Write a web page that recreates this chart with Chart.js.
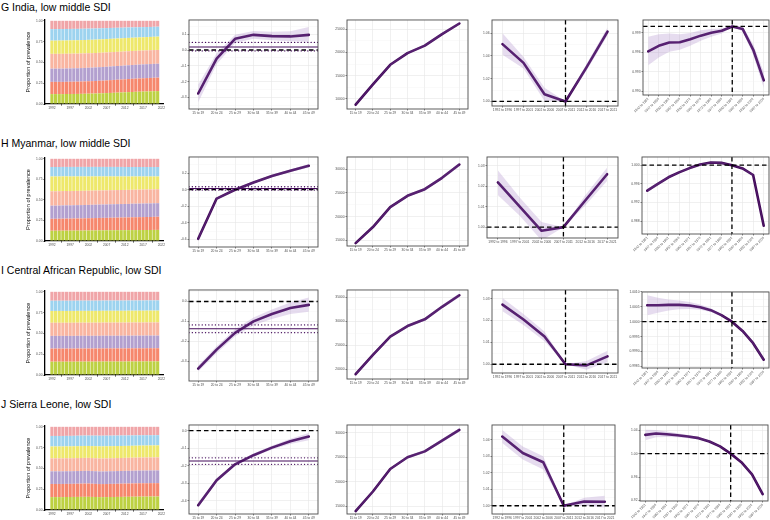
<!DOCTYPE html>
<html>
<head>
<meta charset="utf-8">
<script src="https://cdn.jsdelivr.net/npm/chart.js@4.4.0/dist/chart.umd.min.js"></script>
<style>
	body { margin: 0; background: #fff; width: 770px; height: 520px; overflow: hidden; position: relative; font-family: "Liberation Sans", Arial, sans-serif; }
	.title { position: absolute; left: 1px; font-size: 10.5px; color: #000; white-space: nowrap; line-height: 12px; }
	canvas { position: absolute; }
</style>
</head>
<body>
<script>
//============================================================================
// categories and tick labels
const age_groups = ['15 to 19', '20 to 24', '25 to 29', '30 to 34', '35 to 39', '40 to 44', '45 to 49'];
const periods = ['1992 to 1996', '1997 to 2001', '2002 to 2006', '2007 to 2011', '2012 to 2016', '2017 to 2021'];
const cohorts = ['1942 to 1951', '1947 to 1956', '1952 to 1961', '1957 to 1966', '1962 to 1971', '1967 to 1976',
	'1972 to 1981', '1977 to 1986', '1982 to 1991', '1987 to 1996', '1992 to 2001', '1997 to 2006'];
const years = [1992, 1993, 1994, 1995, 1996, 1997, 1998, 1999, 2000, 2001, 2002, 2003, 2004, 2005, 2006,
	2007, 2008, 2009, 2010, 2011, 2012, 2013, 2014, 2015, 2016, 2017, 2018, 2019, 2020, 2021];
const year_ticks = [1992, 1997, 2002, 2007, 2012, 2017, 2022];
const share_ticks = [0, 0.25, 0.5, 0.75, 1];
const ref_period = '2007 to 2011';
const ref_cohort = '1982 to 1991';
const share_colors = ['#BDD142', '#F6876D', '#B3A0CF', '#F9B5A1', '#EEE86B', '#9DD3EF', '#F0A5A8'];

//============================================================================
// G India
const india_share_15 = [11.9,11.9,11.9,11.9,12.0,12.0,12.1,12.1,12.2,12.3,12.4,12.5,12.6,12.8,12.9,13.1,13.3,13.5,13.7,13.9,14.1,14.3,14.5,14.7,14.8,15.0,15.1,15.3,15.4,15.5];
const india_share_20 = [14.7,14.7,14.7,14.7,14.7,14.8,14.8,14.8,14.9,14.9,15.0,15.0,15.1,15.2,15.2,15.3,15.4,15.5,15.6,15.6,15.7,15.8,15.9,15.9,16.0,16.0,16.1,16.1,16.2,16.2];
const india_share_25 = [15.9,15.9,15.9,16.0,16.0,16.0,16.1,16.1,16.1,16.2,16.2,16.2,16.3,16.3,16.4,16.4,16.4,16.5,16.5,16.5,16.6,16.6,16.6,16.6,16.7,16.7,16.7,16.7,16.7,16.7];
const india_share_30 = [17.8,17.8,17.8,17.8,17.7,17.7,17.7,17.6,17.6,17.5,17.5,17.4,17.4,17.3,17.3,17.2,17.2,17.1,17.1,17.0,17.0,16.9,16.9,16.8,16.8,16.7,16.7,16.7,16.6,16.6];
const india_share_35 = [15.9,15.9,16.0,16.0,16.0,16.1,16.1,16.1,16.1,16.1,16.1,16.1,16.1,16.1,16.1,16.1,16.1,16.1,16.1,16.1,16.1,16.1,16.0,16.0,16.0,16.0,16.0,16.0,16.0,16.0];
const india_share_40 = [13.8,13.8,13.8,13.8,13.8,13.7,13.7,13.7,13.6,13.6,13.5,13.5,13.4,13.3,13.3,13.2,13.1,13.0,12.9,12.8,12.7,12.6,12.5,12.4,12.3,12.2,12.1,12.0,12.0,11.9];
const india_share_45 = [10.0,10.0,9.9,9.9,9.8,9.8,9.7,9.7,9.6,9.5,9.4,9.3,9.2,9.1,8.9,8.8,8.6,8.5,8.4,8.3,8.1,8.0,7.9,7.8,7.7,7.6,7.5,7.4,7.2,7.1];

const india_drift = [-0.275, -0.054, 0.071, 0.096, 0.088, 0.086, 0.096];
const india_drift_lo = [-0.33, -0.09, 0.045, 0.072, 0.062, 0.056, 0.052];
const india_drift_hi = [-0.22, -0.02, 0.097, 0.12, 0.115, 0.118, 0.145];
const india_net_drift = [0.019, -0.006, 0.048];
const india_drift_ticks = [-0.3, -0.2, -0.1, 0, 0.1];

const india_age = [8730, 13100, 17340, 19860, 21480, 23960, 26240];
const india_age_lo = [8600, 12950, 17150, 19650, 21250, 23700, 25950];
const india_age_hi = [8860, 13250, 17530, 20070, 21710, 24220, 26530];
const india_age_ticks = [10000, 15000, 20000, 25000];

const india_period = [1.0504, 1.0339, 1.0064, 1.0, 1.030, 1.0614];
const india_period_lo = [1.041, 1.029, 1.0005, 1.0, 1.027, 1.058];
const india_period_hi = [1.060, 1.039, 1.012, 1.0, 1.033, 1.065];
const india_period_ticks = [1.00, 1.02, 1.04, 1.06];

const india_cohort = [0.99614, 0.99700, 0.99751, 0.99756, 0.99802, 0.99858, 0.99903, 0.99934, 1.0, 0.99959, 0.99639, 0.99166];
const india_cohort_lo = [0.9940, 0.9952, 0.9961, 0.9964, 0.9970, 0.9978, 0.9984, 0.9989, 1.0, 0.9992, 0.9956, 0.9905];
const india_cohort_hi = [0.9984, 0.9988, 0.9989, 0.9988, 0.9990, 0.9994, 0.9996, 0.9997, 1.0, 1.0000, 0.9972, 0.9929];
const india_cohort_ticks = [0.990, 0.993, 0.996, 0.999];

//============================================================================
// H Myanmar
const myanmar_share_15 = [12.5,12.5,12.5,12.6,12.6,12.6,12.7,12.7,12.7,12.8,12.8,12.9,12.9,13.0,13.0,13.0,13.1,13.1,13.1,13.2,13.2,13.2,13.3,13.3,13.3,13.4,13.4,13.4,13.5,13.5];
const myanmar_share_20 = [14.5,14.5,14.6,14.6,14.7,14.7,14.8,14.8,14.9,14.9,15.0,15.0,15.1,15.1,15.2,15.2,15.3,15.3,15.4,15.4,15.5,15.5,15.6,15.6,15.7,15.7,15.8,15.8,15.9,16.0];
const myanmar_share_25 = [16.0,16.0,16.0,16.1,16.1,16.1,16.1,16.2,16.2,16.2,16.2,16.3,16.3,16.3,16.3,16.3,16.4,16.4,16.4,16.4,16.4,16.4,16.5,16.5,16.5,16.5,16.5,16.5,16.5,16.5];
const myanmar_share_30 = [17.5,17.5,17.5,17.5,17.5,17.4,17.4,17.4,17.4,17.3,17.3,17.3,17.3,17.2,17.2,17.2,17.2,17.1,17.1,17.1,17.1,17.1,17.0,17.0,17.0,17.0,17.0,17.0,17.0,17.0];
const myanmar_share_35 = [18.0,18.0,17.9,17.9,17.8,17.8,17.7,17.6,17.6,17.5,17.4,17.3,17.2,17.1,17.0,16.9,16.8,16.7,16.6,16.5,16.4,16.3,16.2,16.1,16.0,15.9,15.8,15.7,15.6,15.5];
const myanmar_share_40 = [11.5,11.5,11.5,11.5,11.5,11.6,11.6,11.6,11.6,11.6,11.6,11.6,11.6,11.6,11.6,11.6,11.6,11.6,11.6,11.6,11.5,11.5,11.5,11.5,11.5,11.5,11.5,11.5,11.5,11.5];
const myanmar_share_45 = [10.0,10.0,10.0,9.9,9.9,9.9,9.9,9.9,9.9,9.9,9.9,9.9,9.9,9.9,9.9,9.9,9.9,9.9,9.9,9.9,10.0,10.0,10.0,10.0,10.0,10.0,10.0,10.0,10.0,10.0];

const myanmar_drift = [-0.594, -0.107, 0.0, 0.087, 0.166, 0.23, 0.29];
const myanmar_drift_lo = [-0.615, -0.12, -0.012, 0.075, 0.152, 0.214, 0.27];
const myanmar_drift_hi = [-0.575, -0.094, 0.012, 0.099, 0.18, 0.246, 0.31];
const myanmar_net_drift = [0.015, -0.004, 0.036];
const myanmar_drift_ticks = [-0.6, -0.4, -0.2, 0, 0.2];

const myanmar_age = [14400, 17800, 22000, 24400, 25800, 28200, 31000];
const myanmar_age_lo = [14250, 17620, 21780, 24150, 25520, 27880, 30600];
const myanmar_age_hi = [14550, 17980, 22220, 24650, 26080, 28520, 31400];
const myanmar_age_ticks = [15000, 20000, 25000, 30000];

const myanmar_period = [1.0218, 1.010, 0.9982, 1.0, 1.013, 1.0258];
const myanmar_period_lo = [1.0156, 1.0055, 0.9935, 1.0, 1.0105, 1.0225];
const myanmar_period_hi = [1.0277, 1.0145, 1.0025, 1.0, 1.0155, 1.029];
const myanmar_period_ticks = [1.00, 1.01, 1.02, 1.03];

const myanmar_cohort = [0.99453, 0.99600, 0.99740, 0.99846, 0.99937, 1.00014, 1.00056, 1.00049, 1.0, 0.9993, 0.99789, 0.98702];
const myanmar_cohort_lo = [0.9942, 0.9957, 0.9972, 0.9983, 0.9992, 1.0000, 1.0004, 1.0003, 1.0, 0.9992, 0.9977, 0.9867];
const myanmar_cohort_hi = [0.9949, 0.9963, 0.9976, 0.9986, 0.9995, 1.0003, 1.0007, 1.0007, 1.0, 0.9994, 0.9981, 0.9873];
const myanmar_cohort_ticks = [0.988, 0.992, 0.996, 1.000];

//============================================================================
// I Central African Republic
const car_share_15 = [16.0,16.0,16.0,16.0,16.0,16.0,16.0,16.1,16.1,16.1,16.1,16.1,16.1,16.1,16.2,16.2,16.2,16.2,16.2,16.2,16.2,16.3,16.3,16.3,16.3,16.3,16.4,16.4,16.4,16.4];
const car_share_20 = [15.8,15.8,15.8,15.8,15.8,15.8,15.8,15.8,15.8,15.8,15.8,15.8,15.8,15.8,15.8,15.8,15.8,15.8,15.8,15.8,15.8,15.8,15.8,15.8,15.8,15.8,15.8,15.8,15.8,15.8];
const car_share_25 = [15.2,15.2,15.2,15.2,15.2,15.2,15.2,15.2,15.2,15.2,15.2,15.2,15.2,15.2,15.2,15.2,15.2,15.2,15.2,15.2,15.2,15.2,15.2,15.2,15.2,15.2,15.2,15.2,15.2,15.2];
const car_share_30 = [15.8,15.8,15.8,15.8,15.8,15.8,15.8,15.8,15.8,15.8,15.8,15.8,15.8,15.8,15.8,15.8,15.8,15.8,15.8,15.8,15.8,15.8,15.8,15.8,15.8,15.8,15.8,15.8,15.8,15.8];
const car_share_35 = [14.2,14.2,14.2,14.2,14.2,14.2,14.2,14.2,14.2,14.2,14.2,14.2,14.2,14.2,14.2,14.2,14.2,14.2,14.2,14.2,14.2,14.2,14.2,14.2,14.2,14.2,14.2,14.2,14.2,14.2];
const car_share_40 = [12.3,12.3,12.3,12.3,12.3,12.3,12.3,12.3,12.3,12.3,12.3,12.3,12.3,12.3,12.3,12.3,12.3,12.3,12.3,12.3,12.3,12.3,12.3,12.3,12.3,12.3,12.3,12.3,12.3,12.3];
const car_share_45 = [10.7,10.7,10.7,10.7,10.7,10.7,10.7,10.6,10.6,10.6,10.6,10.6,10.6,10.6,10.5,10.5,10.5,10.5,10.5,10.5,10.5,10.4,10.4,10.4,10.4,10.4,10.3,10.3,10.3,10.3];

const car_drift = [-0.338, -0.242, -0.158, -0.1, -0.063, -0.033, -0.017];
const car_drift_lo = [-0.352, -0.26, -0.175, -0.12, -0.088, -0.063, -0.052];
const car_drift_hi = [-0.322, -0.225, -0.14, -0.08, -0.04, -0.005, 0.02];
const car_net_drift = [-0.137, -0.157, -0.118];
const car_drift_ticks = [-0.3, -0.2, -0.1, 0];

const car_age = [19000, 23000, 26800, 29000, 30400, 33000, 35400];
const car_age_lo = [18800, 22780, 26550, 28720, 30100, 32650, 35000];
const car_age_hi = [19200, 23220, 27050, 29280, 30700, 33350, 35800];
const car_age_ticks = [20000, 25000, 30000, 35000];

const car_period = [1.0273, 1.0205, 1.0127, 1.0, 0.9995, 1.0036];
const car_period_lo = [1.0243, 1.0180, 1.0105, 1.0, 0.9975, 1.0010];
const car_period_hi = [1.0303, 1.0230, 1.0150, 1.0, 1.0015, 1.0062];
const car_period_ticks = [1.00, 1.01, 1.02, 1.03];

const car_cohort = [1.000556, 1.000556, 1.000567, 1.000567, 1.000544, 1.000489, 1.000389, 1.000222, 1.0, 0.999689, 0.999278, 0.998722];
const car_cohort_lo = [1.00022, 1.00030, 1.00038, 1.00042, 1.00043, 1.00040, 1.00033, 1.00019, 1.0, 0.99966, 0.99924, 0.99868];
const car_cohort_hi = [1.00089, 1.00081, 1.00075, 1.00071, 1.00066, 1.00058, 1.00045, 1.00025, 1.0, 0.99972, 0.99932, 0.99877];
const car_cohort_ticks = [0.9985, 0.9990, 0.9995, 1.0000, 1.0005, 1.0010];

//============================================================================
// J Sierra Leone
const sl_share_15 = [15.5,15.5,15.5,15.5,15.6,15.6,15.7,15.7,15.8,15.8,15.8,15.7,15.6,15.5,15.5,15.5,15.6,15.6,15.7,15.7,15.8,15.8,15.9,15.9,16.0,16.0,16.0,16.1,16.1,16.1];
const sl_share_20 = [15.8,15.8,15.8,15.8,15.8,15.8,15.8,15.9,15.9,16.0,16.0,15.9,15.8,15.7,15.7,15.7,15.8,15.8,15.8,15.9,15.9,15.9,15.9,16.0,16.0,16.0,16.0,16.0,16.0,16.0];
const sl_share_25 = [15.2,15.2,15.2,15.2,15.2,15.2,15.2,15.2,15.2,15.2,15.2,15.2,15.2,15.2,15.2,15.2,15.2,15.2,15.2,15.2,15.2,15.2,15.2,15.2,15.2,15.2,15.2,15.2,15.2,15.2];
const sl_share_30 = [15.6,15.6,15.6,15.6,15.6,15.6,15.6,15.6,15.6,15.6,15.6,15.6,15.6,15.6,15.6,15.6,15.6,15.6,15.6,15.6,15.6,15.6,15.6,15.6,15.6,15.6,15.6,15.6,15.6,15.6];
const sl_share_35 = [14.3,14.3,14.3,14.3,14.3,14.3,14.3,14.3,14.3,14.3,14.3,14.4,14.5,14.6,14.6,14.6,14.5,14.5,14.4,14.4,14.3,14.3,14.3,14.3,14.3,14.3,14.3,14.3,14.3,14.3];
const sl_share_40 = [12.6,12.6,12.6,12.6,12.6,12.6,12.6,12.6,12.6,12.5,12.5,12.6,12.7,12.8,12.8,12.8,12.7,12.7,12.6,12.6,12.5,12.5,12.4,12.4,12.3,12.3,12.3,12.2,12.2,12.2];
const sl_share_45 = [11.0,11.0,11.0,11.0,10.9,10.9,10.8,10.7,10.6,10.5,10.5,10.6,10.6,10.7,10.7,10.6,10.6,10.5,10.5,10.4,10.4,10.3,10.3,10.2,10.2,10.1,10.1,10.1,10.0,10.0];

const sl_drift = [-0.425, -0.283, -0.192, -0.14, -0.097, -0.061, -0.034];
const sl_drift_lo = [-0.437, -0.293, -0.2, -0.149, -0.108, -0.076, -0.055];
const sl_drift_hi = [-0.413, -0.273, -0.184, -0.131, -0.086, -0.046, -0.013];
const sl_net_drift = [-0.173, -0.192, -0.155];
const sl_drift_ticks = [-0.4, -0.3, -0.2, -0.1, 0];

const sl_age = [14000, 18000, 22600, 25000, 26200, 28400, 30600];
const sl_age_lo = [13850, 17820, 22380, 24750, 25920, 28080, 30220];
const sl_age_hi = [14150, 18180, 22820, 25250, 26480, 28720, 30980];
const sl_age_ticks = [15000, 20000, 25000, 30000];

const sl_period = [1.042, 1.032, 1.0264, 1.0, 1.0026, 1.0024];
const sl_period_lo = [1.038, 1.028, 1.022, 1.0, 1.0, 0.999];
const sl_period_hi = [1.046, 1.036, 1.030, 1.0, 1.0048, 1.006];
const sl_period_ticks = [1.00, 1.01, 1.02, 1.03, 1.04];

const sl_cohort = [1.0321, 1.0344, 1.0332, 1.0315, 1.0293, 1.0265, 1.0208, 1.0124, 1.0, 0.9854, 0.9646, 0.9307];
const sl_cohort_lo = [1.0230, 1.0280, 1.0285, 1.0280, 1.0265, 1.0245, 1.0193, 1.0115, 1.0, 0.9845, 0.9632, 0.9290];
const sl_cohort_hi = [1.0410, 1.0405, 1.0380, 1.0350, 1.0320, 1.0285, 1.0223, 1.0133, 1.0, 0.9863, 0.9660, 0.9324];
const sl_cohort_ticks = [0.92, 0.96, 1.00, 1.04];

//============================================================================
// layout (pixel boxes of the plot areas)

const rows = [
	{
		title: 'G India, low middle SDI', title_top: 1,
		shares: [india_share_15, india_share_20, india_share_25, india_share_30, india_share_35, india_share_40, india_share_45],
		bar_box: [45, 19, 164, 104],
		drift: [india_drift, india_drift_lo, india_drift_hi], net: india_net_drift, drift_ticks: india_drift_ticks,
		drift_box: [189, 18, 317, 108], drift_range: [-0.373, 0.19], drift_dec: 1,
		age: [india_age, india_age_lo, india_age_hi], age_ticks: india_age_ticks,
		age_box: [347, 18, 467, 108], age_range: [7800, 27000],
		period: [india_period, india_period_lo, india_period_hi], period_ticks: india_period_ticks,
		period_box: [492, 18, 617, 105], period_range: [0.996, 1.0716], period_dec: 2,
		cohort: [india_cohort, india_cohort_lo, india_cohort_hi], cohort_ticks: india_cohort_ticks,
		cohort_box: [643, 18, 768, 94], cohort_range: [0.9894, 1.001], cohort_dec: 3
	},
	{
		title: 'H Myanmar, low middle SDI', title_top: 137,
		shares: [myanmar_share_15, myanmar_share_20, myanmar_share_25, myanmar_share_30, myanmar_share_35, myanmar_share_40, myanmar_share_45],
		bar_box: [45, 157, 164, 241],
		drift: [myanmar_drift, myanmar_drift_lo, myanmar_drift_hi], net: myanmar_net_drift, drift_ticks: myanmar_drift_ticks,
		drift_box: [189, 155, 317, 246], drift_range: [-0.693, 0.396], drift_dec: 1,
		age: [myanmar_age, myanmar_age_lo, myanmar_age_hi], age_ticks: myanmar_age_ticks,
		age_box: [347, 155, 467, 245], age_range: [13800, 32600],
		period: [myanmar_period, myanmar_period_lo, myanmar_period_hi], period_ticks: myanmar_period_ticks,
		period_box: [487, 155, 617, 237], period_range: [0.9947, 1.0342], period_dec: 2,
		cohort: [myanmar_cohort, myanmar_cohort_lo, myanmar_cohort_hi], cohort_ticks: myanmar_cohort_ticks,
		cohort_box: [642, 155, 768, 233], cohort_range: [0.98526, 1.00175], cohort_dec: 3
	},
	{
		title: 'I Central African Republic, low SDI', title_top: 264,
		shares: [car_share_15, car_share_20, car_share_25, car_share_30, car_share_35, car_share_40, car_share_45],
		bar_box: [45, 290, 164, 375],
		drift: [car_drift, car_drift_lo, car_drift_hi], net: car_net_drift, drift_ticks: car_drift_ticks,
		drift_box: [189, 288, 317, 380], drift_range: [-0.4, 0.058], drift_dec: 1,
		age: [car_age, car_age_lo, car_age_hi], age_ticks: car_age_ticks,
		age_box: [347, 288, 467, 378], age_range: [18000, 36500],
		period: [car_period, car_period_lo, car_period_hi], period_ticks: car_period_ticks,
		period_box: [492, 288, 617, 372], period_range: [0.996, 1.034], period_dec: 2,
		cohort: [car_cohort, car_cohort_lo, car_cohort_hi], cohort_ticks: car_cohort_ticks,
		cohort_box: [642, 290, 768, 367], cohort_range: [0.998444, 1.001], cohort_dec: 4
	},
	{
		title: 'J Sierra Leone, low SDI', title_top: 398,
		shares: [sl_share_15, sl_share_20, sl_share_25, sl_share_30, sl_share_35, sl_share_40, sl_share_45],
		bar_box: [45, 425, 164, 510],
		drift: [sl_drift, sl_drift_lo, sl_drift_hi], net: sl_net_drift, drift_ticks: sl_drift_ticks,
		drift_box: [189, 423, 317, 513], drift_range: [-0.475, 0.032], drift_dec: 1,
		age: [sl_age, sl_age_lo, sl_age_hi], age_ticks: sl_age_ticks,
		age_box: [347, 423, 467, 513], age_range: [13400, 31600],
		period: [sl_period, sl_period_lo, sl_period_hi], period_ticks: sl_period_ticks,
		period_box: [492, 423, 614, 513], period_range: [0.995, 1.049], period_dec: 2,
		cohort: [sl_cohort, sl_cohort_lo, sl_cohort_hi], cohort_ticks: sl_cohort_ticks,
		cohort_box: [640, 423, 767, 500], cohort_range: [0.919, 1.049], cohort_dec: 2
	}
];

const line_color = '#430A5A';
const ribbon_color = 'rgba(150, 110, 190, 0.24)';
const tick_font = { family: 'Liberation Sans', size: 3.3 };
const tick_color = '#4D4D4D';

//============================================================================

const Panel_Lines = {
	id: 'panel_lines',
	afterDatasetsDraw(chart, args, opts) {
		const ctx = chart.ctx;
		const a = chart.chartArea;
		const y = chart.scales.y;
		const x = chart.scales.x;
		ctx.save();
		ctx.beginPath();
		ctx.rect(a.left, a.top, a.right - a.left, a.bottom - a.top);
		ctx.clip();
		(opts.hlines || []).forEach(h => {
			const py = y.getPixelForValue(h.value);
			ctx.beginPath();
			ctx.setLineDash(h.dash || []);
			ctx.lineWidth = h.width;
			ctx.strokeStyle = h.color;
			ctx.lineCap = h.cap || 'butt';
			ctx.moveTo(a.left, py);
			ctx.lineTo(a.right, py);
			ctx.stroke();
		});
		(opts.vlines || []).forEach(v => {
			const px = x.getPixelForValue(v.index);
			ctx.beginPath();
			ctx.setLineDash(v.dash || []);
			ctx.lineWidth = v.width;
			ctx.strokeStyle = v.color;
			ctx.moveTo(px, a.top);
			ctx.lineTo(px, a.bottom);
			ctx.stroke();
		});
		ctx.restore();
	},
	afterDraw(chart, args, opts) {
		if(!opts.border) return;
		const ctx = chart.ctx;
		const a = chart.chartArea;
		ctx.save();
		ctx.strokeStyle = '#4D4D4D';
		ctx.lineWidth = 0.9;
		ctx.strokeRect(a.left, a.top, a.right - a.left, a.bottom - a.top);
		ctx.restore();
	}
};

function Make_Canvas(left, top, width, height) {
	const c = document.createElement('canvas');
	c.width = width;
	c.height = height;
	c.style.left = left + 'px';
	c.style.top = top + 'px';
	c.style.width = width + 'px';
	c.style.height = height + 'px';
	document.body.appendChild(c);
	return c.getContext('2d');
}

// major ticks plus a minor tick half way between them (ggplot minor grid)
function Tick_Set(major, lo, hi) {
	const step = major[1] - major[0];
	const vals = [];
	major.forEach(v => vals.push({ value: v, minor: false }));
	for(let i = -1; i < major.length; i++) {
		const m = (i < 0 ? major[0] - step / 2 : major[i] + step / 2);
		if(m >= lo && m <= hi) vals.push({ value: m, minor: true });
	}
	vals.sort((p, q) => p.value - q.value);
	return vals;
}

//============================================================================

function Bar_Panel(row) {
	const [l, t, r, b] = row.bar_box;
	const y_w = 20;
	const x_h = 7;
	const ctx = Make_Canvas(l - y_w - 2, t - 2, r - l + y_w + 4, b - t + x_h + 4);

	// stack shares normalised to one per year
	const totals = years.map((yr, i) => row.shares.reduce((s, arr) => s + arr[i], 0));
	const datasets = row.shares.map((arr, k) => ({
		label: age_groups[k],
		data: years.map((yr, i) => ({ x: yr, y: arr[i] / totals[i] })),
		backgroundColor: share_colors[k],
		borderWidth: 0,
		barPercentage: 0.86,
		categoryPercentage: 1.0
	}));

	return new Chart(ctx, {
		type: 'bar',
		data: { datasets: datasets },
		options: {
			responsive: false,
			animation: false,
			layout: { padding: { top: 2, right: 2, left: 2, bottom: 2 } },
			plugins: { legend: { display: false }, tooltip: { enabled: false } },
			scales: {
				x: {
					type: 'linear', stacked: true, offset: false, min: 1990.1, max: 2022.5,
					afterBuildTicks: s => { s.ticks = year_ticks.map(v => ({ value: v })); },
					afterFit: s => { s.height = x_h; },
					ticks: { font: tick_font, color: tick_color, padding: 1, maxRotation: 0, autoSkip: false, callback: v => String(v) },
					grid: { display: true, drawOnChartArea: false, drawTicks: true, tickLength: 1.5, tickColor: '#333' },
					border: { display: true, color: '#000', width: 1.3 }
				},
				y: {
					stacked: true, min: 0, max: 1.01,
					afterBuildTicks: s => { s.ticks = share_ticks.map(v => ({ value: v })); },
					afterFit: s => { s.width = y_w; },
					ticks: { font: tick_font, color: tick_color, padding: 1, callback: v => v.toFixed(2) },
					grid: { display: true, drawOnChartArea: false, drawTicks: true, tickLength: 1.5, tickColor: '#333' },
					border: { display: true, color: '#000', width: 1.3 },
					title: { display: true, text: 'Proportion of prevalence', font: { family: 'Liberation Sans', size: 5.6 }, color: '#000', padding: 0 }
				}
			}
		}
	});
}

function Line_Panel(box, labels, series, major, range, dec, extra) {
	const [l, t, r, b] = box;
	const y_w = 22;
	const x_h = extra.rotate ? 19 : 6;
	const ctx = Make_Canvas(l - y_w, t - 1, r - l + y_w + 7, b - t + x_h + 2);
	const ticks = Tick_Set(major, range[0], range[1]);

	const datasets = [
		{ data: series[1], borderWidth: 0, pointRadius: 0, fill: false },
		{ data: series[2], borderWidth: 0, pointRadius: 0, fill: '-1', backgroundColor: ribbon_color },
		{ data: series[0], borderColor: line_color, borderWidth: 2.6, pointRadius: 0, fill: false, tension: 0, borderJoinStyle: 'round', borderCapStyle: 'round' }
	];

	return new Chart(ctx, {
		type: 'line',
		data: { labels: labels, datasets: datasets },
		options: {
			responsive: false,
			animation: false,
			layout: { padding: { top: 1, right: 6, left: 0, bottom: 0 } },
			plugins: {
				legend: { display: false }, tooltip: { enabled: false },
				panel_lines: { border: true, hlines: extra.hlines || [], vlines: extra.vlines || [] }
			},
			scales: {
				x: {
					offset: true,
					afterFit: s => { s.height = x_h; },
					ticks: {
						font: tick_font, color: tick_color, padding: 0.5, autoSkip: false,
						minRotation: extra.rotate ? 45 : 0, maxRotation: extra.rotate ? 45 : 0
					},
					grid: { offset: false, color: '#E6E6E6', lineWidth: 0.6, drawTicks: true, tickLength: 1.5, tickColor: '#333' },
					border: { display: false }
				},
				y: {
					min: range[0], max: range[1],
					afterBuildTicks: s => { s.ticks = ticks.map(v => ({ value: v.value, minor: v.minor })); },
					afterFit: s => { s.width = y_w; },
					ticks: {
						font: tick_font, color: tick_color, padding: 1, autoSkip: false,
						callback: (v, i, tk) => tk[i].minor ? '' : v.toFixed(dec)
					},
					grid: {
						color: c => (c.tick && c.tick.minor) ? '#F3F3F3' : '#E6E6E6',
						lineWidth: c => (c.tick && c.tick.minor) ? 0.4 : 0.6,
						drawTicks: true, tickLength: 1.5,
						tickColor: c => (c.tick && c.tick.minor) ? 'rgba(0,0,0,0)' : '#333'
					},
					border: { display: false }
				}
			}
		},
		plugins: [Panel_Lines]
	});
}

//============================================================================

function init() {
	const dash_black = { color: '#000', width: 1.3, dash: [4.5, 3] };

	rows.forEach(row => {
		const div = document.createElement('div');
		div.className = 'title';
		div.style.top = row.title_top + 'px';
		div.textContent = row.title;
		document.body.appendChild(div);

		Bar_Panel(row);

		Line_Panel(row.drift_box, age_groups, row.drift, row.drift_ticks, row.drift_range, row.drift_dec, {
			hlines: [
				{ value: 0, color: dash_black.color, width: dash_black.width, dash: dash_black.dash },
				{ value: row.net[0], color: line_color, width: 1.1 },
				{ value: row.net[1], color: line_color, width: 1.3, dash: [0.1, 3.2], cap: 'round' },
				{ value: row.net[2], color: line_color, width: 1.3, dash: [0.1, 3.2], cap: 'round' }
			]
		});

		Line_Panel(row.age_box, age_groups, row.age, row.age_ticks, row.age_range, 0, {});

		Line_Panel(row.period_box, periods, row.period, row.period_ticks, row.period_range, row.period_dec, {
			hlines: [{ value: 1, color: dash_black.color, width: dash_black.width, dash: dash_black.dash }],
			vlines: [{ index: periods.indexOf(ref_period), color: dash_black.color, width: dash_black.width, dash: dash_black.dash }]
		});

		Line_Panel(row.cohort_box, cohorts, row.cohort, row.cohort_ticks, row.cohort_range, row.cohort_dec, {
			rotate: true,
			hlines: [{ value: 1, color: dash_black.color, width: dash_black.width, dash: dash_black.dash }],
			vlines: [{ index: cohorts.indexOf(ref_cohort), color: dash_black.color, width: dash_black.width, dash: dash_black.dash }]
		});
	});
}

window.onload = init;
</script>
</body>
</html>
